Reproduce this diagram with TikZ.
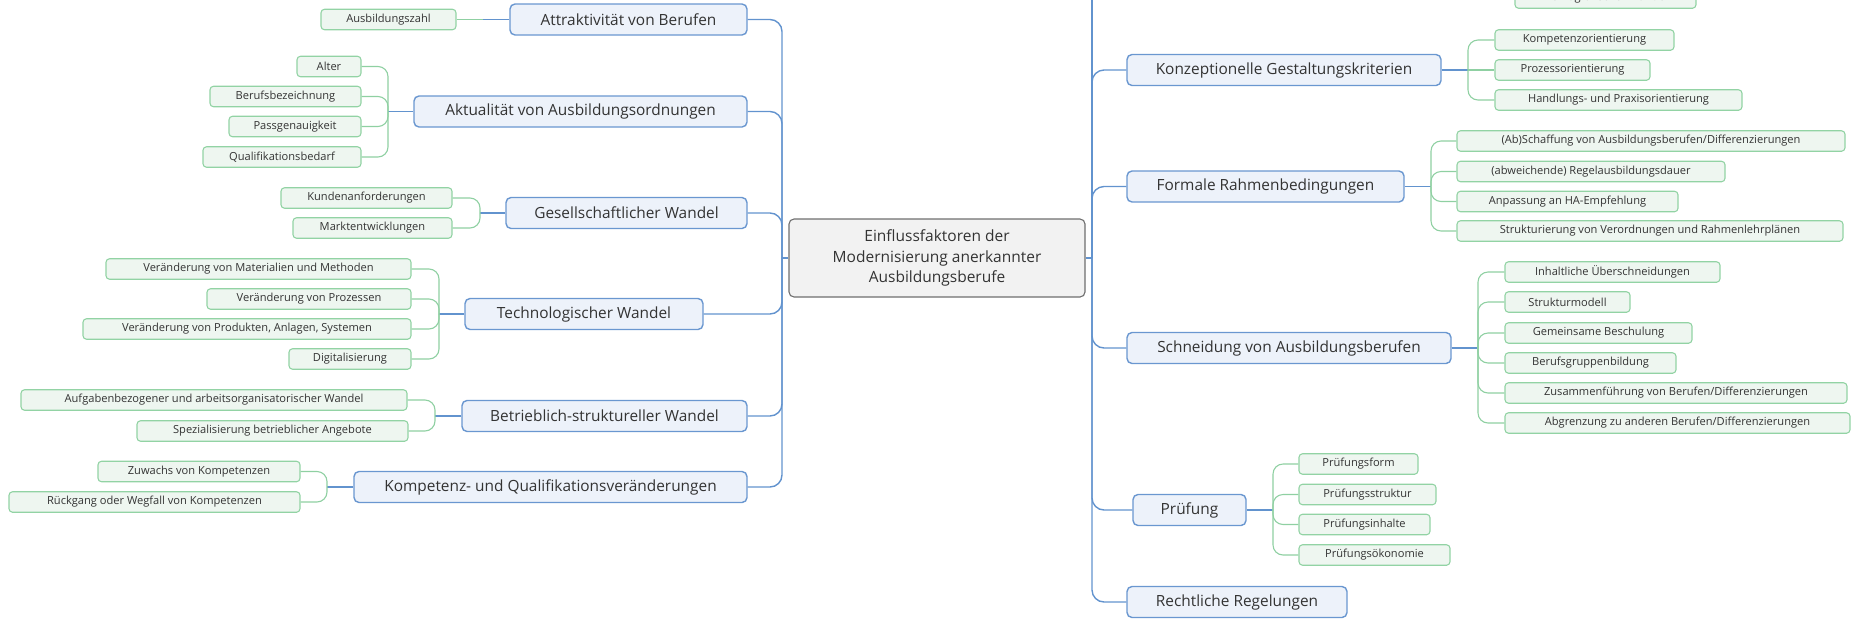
\documentclass[tikz,border=0pt]{standalone}
\usepackage{fontspec}
\setmainfont{Open Sans}
\definecolor{mainfill}{HTML}{EDF2FA}
\definecolor{maindraw}{HTML}{6A97D0}
\definecolor{subfill}{HTML}{EEF6F0}
\definecolor{subdraw}{HTML}{92D3A4}
\definecolor{cenfill}{HTML}{F2F2F2}
\definecolor{cendraw}{HTML}{6E6E6E}
\definecolor{blueline}{HTML}{6293CE}
\definecolor{greenline}{HTML}{8FD0A2}
\definecolor{txt}{HTML}{333333}
\tikzset{
  mainbox/.style={draw=maindraw, fill=mainfill, line width=1.4pt, rounded corners=5pt,
    minimum height=31pt, inner xsep=2pt, inner ysep=0pt, text=txt, font=\fontsize{15.4}{17}\selectfont},
  subbox/.style={draw=subdraw, fill=subfill, line width=1.1pt, rounded corners=3.5pt,
    minimum height=20.5pt, inner xsep=2pt, inner ysep=0pt, text=txt, font=\fontsize{11.1}{13}\selectfont},
  cenbox/.style={draw=cendraw, fill=cenfill, line width=1.1pt, rounded corners=5pt,
    minimum width=296pt, minimum height=78pt, align=center, text=txt,
    font=\fontsize{15.5}{20.5}\selectfont},
  bl/.style={draw=blueline, line width=1.4pt, rounded corners=12pt},
  gr/.style={draw=greenline, line width=1.1pt, rounded corners=10pt},
}
\begin{document}
\begin{tikzpicture}[x=1pt,y=-1pt]
\useasboundingbox (0,0) rectangle (1853,619);
\clip (0,0) rectangle (1853,619);
% central
\node[cenbox] (cen) at (937,258) {Einflussfaktoren der\\Modernisierung anerkannter\\Ausbildungsberufe};
\coordinate (tl) at (782,258);
\coordinate (tr) at (1092,258);
% left main nodes
\node[mainbox, minimum width=237pt] (attr) at (628.5,19.5) {Attraktivität von Berufen};
\node[mainbox, minimum width=333pt] (aktu) at (580.5,111.5) {Aktualität von Ausbildungsordnungen};
\node[mainbox, minimum width=241pt] (gesell) at (626.5,213) {Gesellschaftlicher Wandel};
\node[mainbox, minimum width=238pt] (tech) at (584,314) {Technologischer Wandel};
\node[mainbox, minimum width=285pt] (betr) at (604.5,416) {Betrieblich-struktureller Wandel};
\node[mainbox, minimum width=393pt] (komp) at (550.5,487) {Kompetenz- und Qualifikationsveränderungen};
% left sub nodes
\node[subbox, minimum width=135pt] (ausb) at (388.5,19.5) {Ausbildungszahl};
\node[subbox, minimum width=64pt] (alter) at (329,66.5) {Alter};
\node[subbox, minimum width=151pt] (berufsb) at (285.5,96.5) {Berufsbezeichnung};
\node[subbox, minimum width=132pt] (passg) at (295,126.5) {Passgenauigkeit};
\node[subbox, minimum width=158pt] (qualb) at (282,157) {Qualifikationsbedarf};
\node[subbox, minimum width=171pt] (kunden) at (366.5,198) {Kundenanforderungen};
\node[subbox, minimum width=159pt] (markt) at (372.5,228) {Marktentwicklungen};
\node[subbox, minimum width=305pt] (vmat) at (258.5,269) {Veränderung von Materialien und Methoden};
\node[subbox, minimum width=204pt] (vproz) at (309,299) {Veränderung von Prozessen};
\node[subbox, minimum width=328pt] (vprod) at (247,329) {Veränderung von Produkten, Anlagen, Systemen};
\node[subbox, minimum width=122pt] (digi) at (350,359) {Digitalisierung};
\node[subbox, minimum width=386pt] (aufg) at (214,400) {Aufgabenbezogener und arbeitsorganisatorischer Wandel};
\node[subbox, minimum width=271pt] (spez) at (272.5,431) {Spezialisierung betrieblicher Angebote};
\node[subbox, minimum width=202pt] (zuw) at (199,471.5) {Zuwachs von Kompetenzen};
\node[subbox, minimum width=291pt] (rueck) at (154.5,502) {Rückgang oder Wegfall von Kompetenzen};
% right main nodes
\node[mainbox, minimum width=314pt] (konz) at (1284,70) {Konzeptionelle Gestaltungskriterien};
\node[mainbox, minimum width=277pt] (formal) at (1265.5,186.5) {Formale Rahmenbedingungen};
\node[mainbox, minimum width=324pt] (schn) at (1289,348) {Schneidung von Ausbildungsberufen};
\node[mainbox, minimum width=113pt] (pruef) at (1189.5,510) {Prüfung};
\node[mainbox, minimum width=220pt] (recht) at (1237,602) {Rechtliche Regelungen};
% right sub nodes
\node[subbox, minimum width=181pt] (demo) at (1605.5,-2) {Demografischer Wandel};
\node[subbox, minimum width=179pt] (kompo) at (1584.5,40) {Kompetenzorientierung};
\node[subbox, minimum width=155pt] (prozo) at (1572.5,70) {Prozessorientierung};
\node[subbox, minimum width=247pt] (handl) at (1618.5,100) {Handlungs- und Praxisorientierung};
\node[subbox, minimum width=388pt] (absch) at (1651,141) {(Ab)Schaffung von Ausbildungsberufen/Differenzierungen};
\node[subbox, minimum width=268pt] (abwei) at (1591,171.5) {(abweichende) Regelausbildungsdauer};
\node[subbox, minimum width=221pt] (anpas) at (1567.5,201.5) {Anpassung an HA-Empfehlung};
\node[subbox, minimum width=386pt] (strukt) at (1650,231) {Strukturierung von Verordnungen und Rahmenlehrplänen};
\node[subbox, minimum width=215pt] (inhalt) at (1612.5,272) {Inhaltliche Überschneidungen};
\node[subbox, minimum width=125pt] (strmod) at (1567.5,302) {Strukturmodell};
\node[subbox, minimum width=187pt] (gembes) at (1598.5,333) {Gemeinsame Beschulung};
\node[subbox, minimum width=171pt] (bgrupp) at (1590.5,363) {Berufsgruppenbildung};
\node[subbox, minimum width=342pt] (zusam) at (1676,393) {Zusammenführung von Berufen/Differenzierungen};
\node[subbox, minimum width=345pt] (abgren) at (1677.5,423) {Abgrenzung zu anderen Berufen/Differenzierungen};
\node[subbox, minimum width=119pt] (pform) at (1358.5,464) {Prüfungsform};
\node[subbox, minimum width=137pt] (pstrukt) at (1367.5,494.5) {Prüfungsstruktur};
\node[subbox, minimum width=131pt] (pinh) at (1364.5,524.5) {Prüfungsinhalte};
\node[subbox, minimum width=151pt] (poek) at (1374.5,555) {Prüfungsökonomie};
% trunk connectors
\draw[bl] (cen.west) -- (tl);
\draw[bl] (cen.east) -- (tr);
\foreach \n in {attr,aktu,gesell,tech,betr,komp} { \draw[bl] (\n.east) -| (tl); }
\foreach \n in {konz,formal,schn,pruef,recht} { \draw[bl] (tr) |- (\n.west); }
\coordinate (ttop) at (1092,-30);
\draw[bl] (tr) -- (ttop);
% green brackets, left
\coordinate (ausbM) at (483,19.5);
\draw[bl] (attr.west) -- (ausbM);
\draw[gr] (ausb.east) -- (ausbM);
\coordinate (aktuB) at (388,111.5);
\draw[bl] (aktu.west) -- (aktuB);
\foreach \n in {alter,berufsb,passg,qualb} { \draw[gr] (\n.east) -| (aktuB); }
\coordinate (gesB) at (480,213);
\draw[bl] (gesell.west) -- (gesB);
\foreach \n in {kunden,markt} { \draw[gr] (\n.east) -| (gesB); }
\coordinate (techB) at (439,314);
\draw[bl] (tech.west) -- (techB);
\foreach \n in {vmat,vproz,vprod,digi} { \draw[gr] (\n.east) -| (techB); }
\coordinate (betrB) at (435,416);
\draw[bl] (betr.west) -- (betrB);
\foreach \n in {aufg,spez} { \draw[gr] (\n.east) -| (betrB); }
\coordinate (kompB) at (327,487);
\draw[bl] (komp.west) -- (kompB);
\foreach \n in {zuw,rueck} { \draw[gr] (\n.east) -| (kompB); }
% green brackets, right
\coordinate (konzB) at (1468,70);
\draw[bl] (konz.east) -- (konzB);
\draw[gr] (konzB) -- (prozo.west);
\foreach \n in {kompo,handl} { \draw[gr] (konzB) |- (\n.west); }
\coordinate (formB) at (1431,186.5);
\draw[bl] (formal.east) -- (formB);
\foreach \n in {absch,abwei,anpas,strukt} { \draw[gr] (formB) |- (\n.west); }
\coordinate (schnB) at (1478,348);
\draw[bl] (schn.east) -- (schnB);
\foreach \n in {inhalt,strmod,gembes,bgrupp,zusam,abgren} { \draw[gr] (schnB) |- (\n.west); }
\coordinate (pruefB) at (1273,510);
\draw[bl] (pruef.east) -- (pruefB);
\foreach \n in {pform,pstrukt,pinh,poek} { \draw[gr] (pruefB) |- (\n.west); }
\end{tikzpicture}
\end{document}
